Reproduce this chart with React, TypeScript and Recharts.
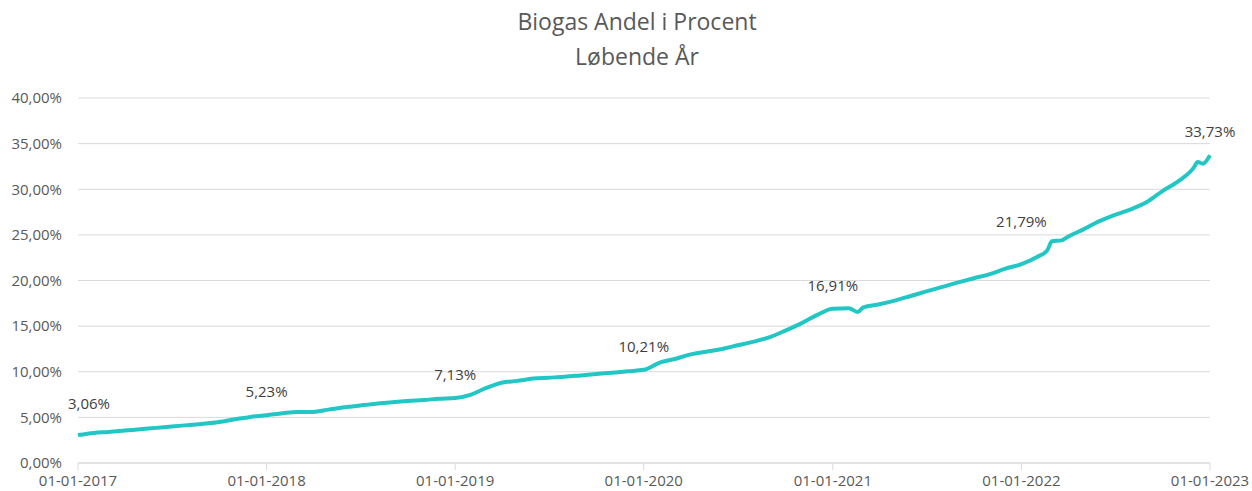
import { LineChart, Line, XAxis, YAxis, CartesianGrid, LabelList } from "recharts";

const dates = [
  "2017-01-01", "2017-02-01", "2017-03-01", "2017-04-01", "2017-05-01", "2017-06-01",
  "2017-07-01", "2017-08-01", "2017-09-01", "2017-10-01", "2017-11-01", "2017-12-01",
  "2018-01-01", "2018-02-01", "2018-03-01", "2018-04-01", "2018-05-01", "2018-06-01",
  "2018-07-01", "2018-08-01", "2018-09-01", "2018-10-01", "2018-11-01", "2018-12-01",
  "2019-01-01", "2019-02-01", "2019-03-01", "2019-04-01", "2019-05-01", "2019-06-01",
  "2019-07-01", "2019-08-01", "2019-09-01", "2019-10-01", "2019-11-01", "2019-12-01",
  "2020-01-01", "2020-02-01", "2020-03-01", "2020-04-01", "2020-05-01", "2020-06-01",
  "2020-07-01", "2020-08-01", "2020-09-01", "2020-10-01", "2020-11-01", "2020-12-01",
  "2021-01-01", "2021-02-01", "2021-02-18", "2021-03-01", "2021-04-01", "2021-05-01",
  "2021-06-01", "2021-07-01", "2021-08-01", "2021-09-01", "2021-10-01", "2021-11-01",
  "2021-12-01", "2022-01-01", "2022-02-01", "2022-02-20", "2022-03-01", "2022-03-20",
  "2022-04-01", "2022-05-01", "2022-06-01", "2022-07-01", "2022-08-01", "2022-09-01",
  "2022-10-01", "2022-11-01", "2022-12-01", "2022-12-08", "2022-12-18", "2023-01-01",
];

const share = [
  3.06, 3.3, 3.4, 3.55, 3.7, 3.85,
  4.0, 4.15, 4.3, 4.5, 4.8, 5.05,
  5.23, 5.45, 5.6, 5.6, 5.85, 6.1,
  6.3, 6.5, 6.65, 6.8, 6.9, 7.05,
  7.13, 7.5, 8.2, 8.8, 9.0, 9.25,
  9.35, 9.45, 9.6, 9.75, 9.9, 10.05,
  10.21, 11.0, 11.4, 11.9, 12.2, 12.5,
  12.9, 13.3, 13.8, 14.5, 15.3, 16.2,
  16.91, 16.95, 16.55, 17.05, 17.4, 17.8,
  18.3, 18.8, 19.3, 19.8, 20.25, 20.7,
  21.3, 21.79, 22.6, 23.3, 24.3, 24.4,
  24.8, 25.6, 26.5, 27.2, 27.8, 28.6,
  29.8, 30.9, 32.4, 33.0, 32.8, 33.73,
];

const labelledDates = ["2017-01-01", "2018-01-01", "2019-01-01", "2020-01-01", "2021-01-01", "2022-01-01", "2023-01-01"];
const tickYears = [2017, 2018, 2019, 2020, 2021, 2022, 2023];
const yTicks = [0, 5, 10, 15, 20, 25, 30, 35, 40];

const toTs = (d: string) => {
  const [y, m, day] = d.split("-").map(Number);
  return Date.UTC(y, m - 1, day);
};

const data = dates.map((d, i) => ({
  t: toTs(d),
  v: share[i],
  lbl: labelledDates.includes(d) ? share[i] : null,
}));

const xTicks = tickYears.map((y) => Date.UTC(y, 0, 1));
const pct = (v: number) => v.toFixed(2).replace(".", ",") + "%";

// Excel nudged a couple of the labels by hand
const renderLabel = (props: any) => {
  const { value, index } = props;
  if (value == null) return null;
  const x = props.x ?? props.viewBox?.x;
  const y = props.y ?? props.viewBox?.y;
  let dx = 0;
  let dy = -24;
  if (index === 0) {
    dx = 11;
    dy = -32;
  }
  if (value === 21.79) dy = -43;
  return (
    <text
      x={x + dx}
      y={y + dy}
      textAnchor="middle"
      dominantBaseline="central"
      fill="#404040"
      fontSize={15}
      fontFamily="Open Sans"
    >
      {pct(value)}
    </text>
  );
};

const tickStyle = { fill: "#595959", fontSize: 15, fontFamily: "Open Sans" };

export default function App() {
  return (
    <div style={{ position: "absolute", left: 0, top: 0, width: 1252, height: 491, background: "#fff" }}>
      <div
        style={{
          position: "absolute",
          left: 22,
          width: 1230,
          top: 4,
          textAlign: "center",
          fontFamily: "Open Sans",
          fontSize: 23,
          lineHeight: "35px",
          color: "#595959",
        }}
      >
        <div>Biogas Andel i Procent</div>
        <div>Løbende År</div>
      </div>
      <LineChart width={1252} height={491} data={data} margin={{ top: 98, right: 42, bottom: 0, left: 0 }}>
        <CartesianGrid vertical={false} stroke="#d9d9d9" strokeWidth={1} />
        <XAxis
          dataKey="t"
          type="number"
          domain={[xTicks[0], xTicks[xTicks.length - 1]]}
          ticks={xTicks}
          tickFormatter={(t: number) => "01-01-" + new Date(t).getUTCFullYear()}
          tick={tickStyle}
          axisLine={{ stroke: "#d9d9d9" }}
          tickLine={{ stroke: "#d9d9d9" }}
          tickSize={7}
          tickMargin={5}
          height={28}
          interval={0}
        />
        <YAxis
          type="number"
          domain={[0, 40]}
          ticks={yTicks}
          tickFormatter={pct}
          tick={tickStyle}
          axisLine={false}
          tickLine={false}
          tickMargin={10}
          width={78}
          interval={0}
        />
        <Line
          type="monotone"
          dataKey="v"
          stroke="#22c7c5"
          strokeWidth={4}
          dot={false}
          activeDot={false}
          isAnimationActive={false}
        >
          <LabelList dataKey="lbl" content={renderLabel} />
        </Line>
      </LineChart>
    </div>
  );
}
